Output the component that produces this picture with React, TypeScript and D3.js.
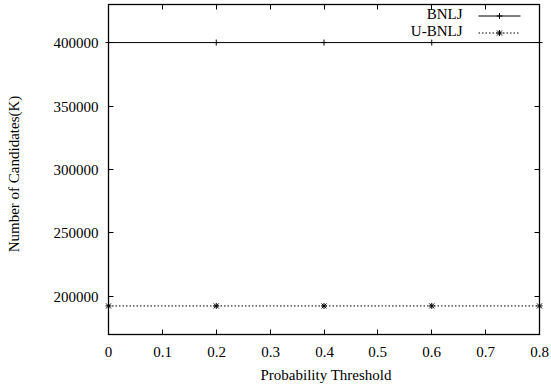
import React from 'react';
import * as d3 from 'd3';

const thresholds = [0, 0.2, 0.4, 0.6, 0.8];
const bnlj = [400000, 400000, 400000, 400000, 400000];
const ubnlj = [192500, 192500, 192500, 192500, 192500];
const xTicks = [0, 0.1, 0.2, 0.3, 0.4, 0.5, 0.6, 0.7, 0.8];
const yTicks = [200000, 250000, 300000, 350000, 400000];
const seriesNames = ['BNLJ', 'U-BNLJ'];

const W = 551;
const H = 388;
const margin = { top: 4, right: 12, bottom: 54, left: 108 };
const font = "'Liberation Serif'";
const tickLen = 5;
const dash = "1.5,2";

const plusPath = (cx: number, cy: number) => `M${cx - 3},${cy}H${cx + 3}M${cx},${cy - 3}V${cy + 3}`;
const starPath = (cx: number, cy: number) =>
    `${plusPath(cx, cy)}M${cx - 2.5},${cy - 2.5}L${cx + 2.5},${cy + 2.5}M${cx - 2.5},${cy + 2.5}L${cx + 2.5},${cy - 2.5}`;

export default function App() {
    const width = W - margin.left - margin.right;
    const height = H - margin.top - margin.bottom;

    const x = d3.scaleLinear().domain([0, 0.8]).range([0, width]);
    const y = d3.scaleLinear().domain([170000, 430000]).range([height, 0]);

    const line = d3.line<number>()
        .x((d, i) => x(thresholds[i]))
        .y(d => y(d));

    const legendY = [11.5, 28.5];
    const textStyle = { fontFamily: font, fontSize: 15 };

    return (
        <div style={{ position: 'fixed', left: 0, top: 0, width: W, height: H, background: '#fff' }}>
            <svg width={W} height={H}>
                <g transform={`translate(${margin.left + 0.5},${margin.top + 0.5})`}>
                    {xTicks.map(t => {
                        const px = Math.round(x(t));
                        return (
                            <g key={`x${t}`}>
                                <line x1={px} x2={px} y1={height} y2={height - tickLen} stroke="#000" />
                                <line x1={px} x2={px} y1={0} y2={tickLen} stroke="#000" />
                                <text x={px} y={height + 22} textAnchor="middle" style={textStyle}>
                                    {t === 0 ? "0" : d3.format(".1f")(t)}
                                </text>
                            </g>
                        );
                    })}
                    {yTicks.map(t => {
                        const py = Math.round(y(t));
                        return (
                            <g key={`y${t}`}>
                                <line x1={0} x2={tickLen} y1={py} y2={py} stroke="#000" />
                                <line x1={width} x2={width - tickLen} y1={py} y2={py} stroke="#000" />
                                <text x={-10} y={py + 5.5} textAnchor="end" style={textStyle}>{String(t)}</text>
                            </g>
                        );
                    })}
                    <rect x={0} y={0} width={width} height={height} fill="none" stroke="#000" strokeWidth={1.3} />

                    <path d={line(bnlj) || ''} fill="none" stroke="#000" />
                    <path d={line(ubnlj) || ''} fill="none" stroke="#000" strokeDasharray={dash} />
                    {bnlj.map((d, i) => (
                        <path key={`b${i}`} d={plusPath(x(thresholds[i]), y(d))} stroke="#000" fill="none" />
                    ))}
                    {ubnlj.map((d, i) => (
                        <path key={`u${i}`} d={starPath(x(thresholds[i]), y(d))} stroke="#000" fill="none" />
                    ))}

                    {seriesNames.map((name, i) => {
                        const ly = legendY[i];
                        return (
                            <g key={name}>
                                <text x={354} y={ly + 3} textAnchor="end" style={textStyle}>{name}</text>
                                <line x1={370} x2={412} y1={ly} y2={ly} stroke="#000" strokeDasharray={i === 1 ? dash : undefined} />
                                <path d={i === 0 ? plusPath(391, ly) : starPath(391, ly)} stroke="#000" fill="none" />
                            </g>
                        );
                    })}
                </g>
                <text x={326} y={380} textAnchor="middle" style={textStyle}>
                    Probability Threshold
                </text>
                <text transform="translate(19,174) rotate(-90)" textAnchor="middle" style={textStyle}>
                    Number of Candidates(K)
                </text>
            </svg>
        </div>
    );
}
